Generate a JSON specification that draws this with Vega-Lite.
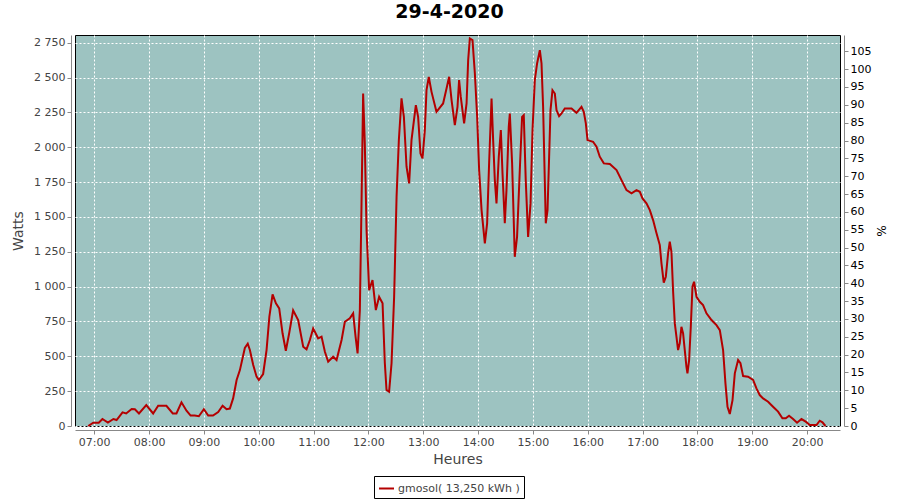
{
  "$schema": "https://vega.github.io/schema/vega-lite/v6.json",
  "width": 765,
  "height": 391,
  "autosize": "none",
  "padding": {"left": 75, "top": 35, "right": 60, "bottom": 74},
  "background": "#ffffff",
  "title": {
    "text": "29-4-2020",
    "font": "DejaVu Sans",
    "fontSize": 19,
    "fontWeight": "bold",
    "color": "#000000",
    "anchor": "middle",
    "dx": -8,
    "offset": 12
  },
  "config": {
    "view": {"fill": "#9dc3c1", "stroke": "#000000", "strokeWidth": 1},
    "axis": {
      "labelFont": "DejaVu Sans",
      "labelFontSize": 11,
      "labelColor": "#444444",
      "titleFont": "DejaVu Sans",
      "titleFontSize": 14,
      "titleFontWeight": "normal",
      "titleColor": "#444444",
      "domainColor": "#888888",
      "tickColor": "#888888",
      "tickSize": 4,
      "gridColor": "#ffffff",
      "gridDash": [2, 2],
      "gridOpacity": 1,
      "gridWidth": 1
    }
  },
  "datasets": {
    "prod": [
      {"t": "2020-04-29T06:53:26", "w": 0},
      {"t": "2020-04-29T06:59:00", "w": 24},
      {"t": "2020-04-29T07:05:00", "w": 24},
      {"t": "2020-04-29T07:09:00", "w": 50},
      {"t": "2020-04-29T07:15:00", "w": 24},
      {"t": "2020-04-29T07:21:00", "w": 50},
      {"t": "2020-04-29T07:24:30", "w": 43},
      {"t": "2020-04-29T07:31:00", "w": 98},
      {"t": "2020-04-29T07:35:00", "w": 90},
      {"t": "2020-04-29T07:41:00", "w": 122},
      {"t": "2020-04-29T07:44:30", "w": 120},
      {"t": "2020-04-29T07:49:00", "w": 90},
      {"t": "2020-04-29T07:57:00", "w": 150},
      {"t": "2020-04-29T08:04:30", "w": 90},
      {"t": "2020-04-29T08:10:00", "w": 145},
      {"t": "2020-04-29T08:19:00", "w": 145},
      {"t": "2020-04-29T08:26:00", "w": 90},
      {"t": "2020-04-29T08:30:00", "w": 90},
      {"t": "2020-04-29T08:35:30", "w": 170},
      {"t": "2020-04-29T08:41:00", "w": 110},
      {"t": "2020-04-29T08:45:30", "w": 75},
      {"t": "2020-04-29T08:50:00", "w": 75},
      {"t": "2020-04-29T08:54:30", "w": 70},
      {"t": "2020-04-29T09:00:00", "w": 120},
      {"t": "2020-04-29T09:04:45", "w": 75},
      {"t": "2020-04-29T09:10:00", "w": 75},
      {"t": "2020-04-29T09:15:40", "w": 100},
      {"t": "2020-04-29T09:20:30", "w": 145},
      {"t": "2020-04-29T09:24:50", "w": 120},
      {"t": "2020-04-29T09:28:25", "w": 125},
      {"t": "2020-04-29T09:32:00", "w": 198},
      {"t": "2020-04-29T09:35:50", "w": 330},
      {"t": "2020-04-29T09:39:25", "w": 401},
      {"t": "2020-04-29T09:44:50", "w": 560},
      {"t": "2020-04-29T09:48:00", "w": 590},
      {"t": "2020-04-29T09:50:20", "w": 545},
      {"t": "2020-04-29T09:54:00", "w": 437},
      {"t": "2020-04-29T09:57:40", "w": 354},
      {"t": "2020-04-29T10:00:10", "w": 330},
      {"t": "2020-04-29T10:04:50", "w": 373},
      {"t": "2020-04-29T10:08:35", "w": 545},
      {"t": "2020-04-29T10:11:40", "w": 784},
      {"t": "2020-04-29T10:15:10", "w": 944},
      {"t": "2020-04-29T10:18:50", "w": 880},
      {"t": "2020-04-29T10:22:25", "w": 844},
      {"t": "2020-04-29T10:26:05", "w": 665},
      {"t": "2020-04-29T10:29:40", "w": 540},
      {"t": "2020-04-29T10:33:20", "w": 665},
      {"t": "2020-04-29T10:37:40", "w": 830},
      {"t": "2020-04-29T10:43:10", "w": 760},
      {"t": "2020-04-29T10:48:40", "w": 569},
      {"t": "2020-04-29T10:52:20", "w": 550},
      {"t": "2020-04-29T10:56:00", "w": 617},
      {"t": "2020-04-29T10:59:35", "w": 700},
      {"t": "2020-04-29T11:05:00", "w": 629},
      {"t": "2020-04-29T11:08:45", "w": 641},
      {"t": "2020-04-29T11:12:25", "w": 533},
      {"t": "2020-04-29T11:16:00", "w": 461},
      {"t": "2020-04-29T11:21:25", "w": 497},
      {"t": "2020-04-29T11:25:10", "w": 473},
      {"t": "2020-04-29T11:30:40", "w": 617},
      {"t": "2020-04-29T11:34:15", "w": 748},
      {"t": "2020-04-29T11:39:40", "w": 772},
      {"t": "2020-04-29T11:43:20", "w": 808},
      {"t": "2020-04-29T11:46:00", "w": 640},
      {"t": "2020-04-29T11:48:10", "w": 521},
      {"t": "2020-04-29T11:50:40", "w": 832},
      {"t": "2020-04-29T11:52:30", "w": 1597},
      {"t": "2020-04-29T11:54:15", "w": 2385},
      {"t": "2020-04-29T11:56:05", "w": 2027},
      {"t": "2020-04-29T11:58:00", "w": 1405},
      {"t": "2020-04-29T12:00:50", "w": 975},
      {"t": "2020-04-29T12:04:30", "w": 1047},
      {"t": "2020-04-29T12:08:10", "w": 832},
      {"t": "2020-04-29T12:11:45", "w": 927},
      {"t": "2020-04-29T12:15:30", "w": 880},
      {"t": "2020-04-29T12:18:00", "w": 450},
      {"t": "2020-04-29T12:19:50", "w": 258},
      {"t": "2020-04-29T12:22:40", "w": 246},
      {"t": "2020-04-29T12:25:20", "w": 450},
      {"t": "2020-04-29T12:28:10", "w": 927},
      {"t": "2020-04-29T12:30:50", "w": 1645},
      {"t": "2020-04-29T12:33:20", "w": 2051},
      {"t": "2020-04-29T12:36:15", "w": 2350},
      {"t": "2020-04-29T12:38:50", "w": 2218},
      {"t": "2020-04-29T12:41:45", "w": 1860},
      {"t": "2020-04-29T12:44:35", "w": 1740},
      {"t": "2020-04-29T12:47:10", "w": 2051},
      {"t": "2020-04-29T12:51:55", "w": 2302},
      {"t": "2020-04-29T12:54:25", "w": 2218},
      {"t": "2020-04-29T12:57:00", "w": 1955},
      {"t": "2020-04-29T12:59:15", "w": 1920},
      {"t": "2020-04-29T13:01:45", "w": 2123},
      {"t": "2020-04-29T13:03:35", "w": 2409},
      {"t": "2020-04-29T13:06:05", "w": 2505},
      {"t": "2020-04-29T13:09:05", "w": 2397},
      {"t": "2020-04-29T13:14:30", "w": 2254},
      {"t": "2020-04-29T13:21:45", "w": 2314},
      {"t": "2020-04-29T13:25:30", "w": 2421},
      {"t": "2020-04-29T13:28:20", "w": 2505},
      {"t": "2020-04-29T13:31:00", "w": 2338},
      {"t": "2020-04-29T13:34:35", "w": 2159},
      {"t": "2020-04-29T13:37:30", "w": 2290},
      {"t": "2020-04-29T13:39:15", "w": 2481},
      {"t": "2020-04-29T13:41:05", "w": 2361},
      {"t": "2020-04-29T13:44:45", "w": 2171},
      {"t": "2020-04-29T13:47:25", "w": 2314},
      {"t": "2020-04-29T13:49:10", "w": 2625},
      {"t": "2020-04-29T13:51:00", "w": 2780},
      {"t": "2020-04-29T13:53:55", "w": 2768},
      {"t": "2020-04-29T13:56:30", "w": 2529},
      {"t": "2020-04-29T13:59:00", "w": 2218},
      {"t": "2020-04-29T14:01:10", "w": 1836},
      {"t": "2020-04-29T14:03:50", "w": 1549},
      {"t": "2020-04-29T14:07:25", "w": 1310},
      {"t": "2020-04-29T14:09:55", "w": 1454},
      {"t": "2020-04-29T14:12:05", "w": 1884},
      {"t": "2020-04-29T14:14:45", "w": 2350},
      {"t": "2020-04-29T14:16:30", "w": 2051},
      {"t": "2020-04-29T14:18:20", "w": 1764},
      {"t": "2020-04-29T14:20:10", "w": 1597},
      {"t": "2020-04-29T14:22:40", "w": 1932},
      {"t": "2020-04-29T14:24:55", "w": 2123},
      {"t": "2020-04-29T14:26:45", "w": 1812},
      {"t": "2020-04-29T14:29:15", "w": 1454},
      {"t": "2020-04-29T14:31:05", "w": 1692},
      {"t": "2020-04-29T14:33:35", "w": 2147},
      {"t": "2020-04-29T14:34:45", "w": 2242},
      {"t": "2020-04-29T14:37:15", "w": 1884},
      {"t": "2020-04-29T14:40:10", "w": 1214},
      {"t": "2020-04-29T14:42:40", "w": 1357},
      {"t": "2020-04-29T14:45:40", "w": 1836},
      {"t": "2020-04-29T14:48:10", "w": 2218},
      {"t": "2020-04-29T14:50:00", "w": 2230},
      {"t": "2020-04-29T14:52:10", "w": 1764},
      {"t": "2020-04-29T14:54:45", "w": 1357},
      {"t": "2020-04-29T14:57:25", "w": 1597},
      {"t": "2020-04-29T14:59:35", "w": 2123},
      {"t": "2020-04-29T15:02:05", "w": 2481},
      {"t": "2020-04-29T15:04:35", "w": 2601},
      {"t": "2020-04-29T15:07:35", "w": 2696},
      {"t": "2020-04-29T15:09:25", "w": 2601},
      {"t": "2020-04-29T15:11:10", "w": 2290},
      {"t": "2020-04-29T15:13:00", "w": 1764},
      {"t": "2020-04-29T15:14:05", "w": 1454},
      {"t": "2020-04-29T15:16:00", "w": 1549},
      {"t": "2020-04-29T15:17:45", "w": 1932},
      {"t": "2020-04-29T15:19:15", "w": 2266},
      {"t": "2020-04-29T15:21:25", "w": 2409},
      {"t": "2020-04-29T15:24:00", "w": 2385},
      {"t": "2020-04-29T15:25:50", "w": 2266},
      {"t": "2020-04-29T15:28:40", "w": 2223},
      {"t": "2020-04-29T15:31:20", "w": 2242},
      {"t": "2020-04-29T15:34:55", "w": 2278},
      {"t": "2020-04-29T15:42:15", "w": 2278},
      {"t": "2020-04-29T15:47:40", "w": 2247},
      {"t": "2020-04-29T15:53:10", "w": 2290},
      {"t": "2020-04-29T15:55:40", "w": 2254},
      {"t": "2020-04-29T15:57:55", "w": 2171},
      {"t": "2020-04-29T15:59:45", "w": 2051},
      {"t": "2020-04-29T16:05:50", "w": 2039},
      {"t": "2020-04-29T16:09:35", "w": 2003},
      {"t": "2020-04-29T16:13:10", "w": 1932},
      {"t": "2020-04-29T16:17:35", "w": 1884},
      {"t": "2020-04-29T16:24:10", "w": 1879},
      {"t": "2020-04-29T16:31:30", "w": 1836},
      {"t": "2020-04-29T16:36:55", "w": 1764},
      {"t": "2020-04-29T16:42:25", "w": 1692},
      {"t": "2020-04-29T16:47:55", "w": 1669},
      {"t": "2020-04-29T16:53:20", "w": 1692},
      {"t": "2020-04-29T16:57:00", "w": 1680},
      {"t": "2020-04-29T16:59:55", "w": 1633},
      {"t": "2020-04-29T17:04:15", "w": 1597},
      {"t": "2020-04-29T17:07:55", "w": 1549},
      {"t": "2020-04-29T17:11:30", "w": 1477},
      {"t": "2020-04-29T17:15:15", "w": 1382},
      {"t": "2020-04-29T17:18:50", "w": 1298},
      {"t": "2020-04-29T17:20:40", "w": 1167},
      {"t": "2020-04-29T17:23:10", "w": 1028},
      {"t": "2020-04-29T17:25:25", "w": 1071},
      {"t": "2020-04-29T17:27:55", "w": 1238},
      {"t": "2020-04-29T17:29:45", "w": 1322},
      {"t": "2020-04-29T17:31:35", "w": 1250},
      {"t": "2020-04-29T17:33:25", "w": 963},
      {"t": "2020-04-29T17:35:15", "w": 736},
      {"t": "2020-04-29T17:37:05", "w": 640},
      {"t": "2020-04-29T17:38:50", "w": 545},
      {"t": "2020-04-29T17:40:40", "w": 593},
      {"t": "2020-04-29T17:42:30", "w": 712},
      {"t": "2020-04-29T17:44:20", "w": 665},
      {"t": "2020-04-29T17:46:10", "w": 545},
      {"t": "2020-04-29T17:48:00", "w": 425},
      {"t": "2020-04-29T17:49:05", "w": 378},
      {"t": "2020-04-29T17:50:55", "w": 473},
      {"t": "2020-04-29T17:52:45", "w": 712},
      {"t": "2020-04-29T17:54:35", "w": 999},
      {"t": "2020-04-29T17:56:20", "w": 1035},
      {"t": "2020-04-29T17:59:00", "w": 927},
      {"t": "2020-04-29T18:02:35", "w": 891},
      {"t": "2020-04-29T18:06:10", "w": 868},
      {"t": "2020-04-29T18:09:55", "w": 808},
      {"t": "2020-04-29T18:15:25", "w": 760},
      {"t": "2020-04-29T18:20:50", "w": 724},
      {"t": "2020-04-29T18:24:30", "w": 688},
      {"t": "2020-04-29T18:28:05", "w": 545},
      {"t": "2020-04-29T18:30:40", "w": 306},
      {"t": "2020-04-29T18:32:55", "w": 138},
      {"t": "2020-04-29T18:35:25", "w": 86},
      {"t": "2020-04-29T18:38:25", "w": 186},
      {"t": "2020-04-29T18:40:55", "w": 378},
      {"t": "2020-04-29T18:44:30", "w": 473},
      {"t": "2020-04-29T18:47:05", "w": 450},
      {"t": "2020-04-29T18:50:00", "w": 358},
      {"t": "2020-04-29T18:55:25", "w": 354},
      {"t": "2020-04-29T19:00:55", "w": 330},
      {"t": "2020-04-29T19:04:35", "w": 270},
      {"t": "2020-04-29T19:08:10", "w": 222},
      {"t": "2020-04-29T19:11:50", "w": 198},
      {"t": "2020-04-29T19:17:20", "w": 174},
      {"t": "2020-04-29T19:22:45", "w": 138},
      {"t": "2020-04-29T19:28:15", "w": 103},
      {"t": "2020-04-29T19:33:00", "w": 55},
      {"t": "2020-04-29T19:36:40", "w": 55},
      {"t": "2020-04-29T19:40:15", "w": 74},
      {"t": "2020-04-29T19:44:40", "w": 50},
      {"t": "2020-04-29T19:49:00", "w": 24},
      {"t": "2020-04-29T19:53:50", "w": 50},
      {"t": "2020-04-29T19:58:30", "w": 31},
      {"t": "2020-04-29T20:02:55", "w": 7},
      {"t": "2020-04-29T20:10:15", "w": 7},
      {"t": "2020-04-29T20:13:50", "w": 38},
      {"t": "2020-04-29T20:16:50", "w": 26},
      {"t": "2020-04-29T20:20:05", "w": 0}
    ],
    "pct": [{"p": 0}, {"p": 105}]
  },
  "layer": [
    {
      "data": {"name": "prod"},
      "mark": {"type": "line", "strokeWidth": 2},
      "encoding": {
        "x": {
          "field": "t",
          "type": "temporal",
          "scale": {
            "domain": [
              {"year": 2020, "month": 4, "date": 29, "hours": 6, "minutes": 39},
              {"year": 2020, "month": 4, "date": 29, "hours": 20, "minutes": 36}
            ]
          },
          "axis": {
            "title": "Heures",
            "format": "%H:%M",
            "tickCount": 14,
            "offset": 4,
            "labelPadding": 2,
            "titlePadding": 5,
            "labelFlush": false,
            "labelOverlap": false
          }
        },
        "y": {
          "field": "w",
          "type": "quantitative",
          "scale": {"domain": [0, 2805], "nice": false, "zero": true},
          "axis": {
            "title": "Watts",
            "orient": "left",
            "values": [0, 250, 500, 750, 1000, 1250, 1500, 1750, 2000, 2250, 2500, 2750],
            "labelExpr": "replace(format(datum.value, ','), ',', ' ')",
            "offset": 4,
            "labelPadding": 2,
            "titlePadding": 8
          }
        },
        "color": {
          "datum": "gmosol( 13,250 kWh )",
          "type": "nominal",
          "scale": {"range": ["#b40000"]},
          "legend": {
            "title": null,
            "orient": "none",
            "legendX": 299,
            "legendY": 441,
            "direction": "horizontal",
            "strokeColor": "#000000",
            "padding": 4,
            "symbolType": "stroke",
            "symbolSize": 225,
            "symbolStrokeWidth": 2,
            "labelOffset": 3,
            "labelFont": "DejaVu Sans",
            "labelFontSize": 11,
            "labelColor": "#444444",
            "fillColor": "#ffffff"
          }
        }
      }
    },
    {
      "data": {"name": "pct"},
      "mark": {"type": "point", "opacity": 0},
      "encoding": {
        "y": {
          "field": "p",
          "type": "quantitative",
          "scale": {"domain": [0, 109.57], "nice": false, "zero": true},
          "axis": {
            "title": "%",
            "orient": "right",
            "grid": false,
            "values": [0, 5, 10, 15, 20, 25, 30, 35, 40, 45, 50, 55, 60, 65, 70, 75, 80, 85, 90, 95, 100, 105],
            "offset": 4,
            "labelColor": "#000000",
            "titleColor": "#000000",
            "titleFontSize": 12,
            "labelPadding": 2,
            "titlePadding": 3
          }
        }
      }
    }
  ],
  "resolve": {"scale": {"y": "independent"}}
}
